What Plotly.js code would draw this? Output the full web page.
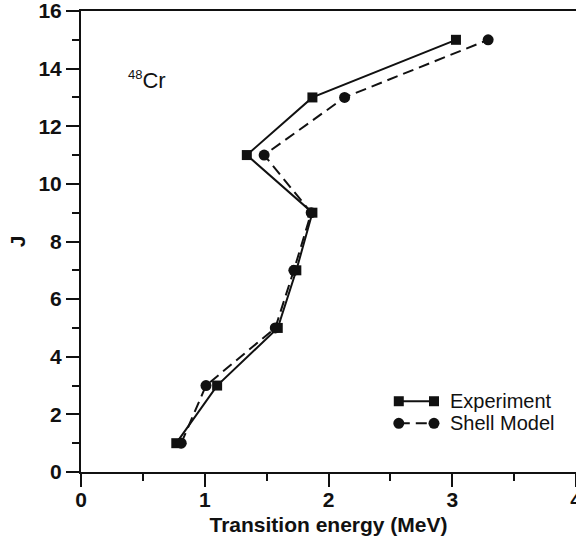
<!DOCTYPE html>
<html>
<head>
<meta charset="utf-8">
<script src="https://cdn.plot.ly/plotly-3.0.1.min.js"></script>
<style>
html, body { margin: 0; padding: 0; overflow: hidden; background: #fff; }
#chart { width: 576px; height: 541px; }
</style>
</head>
<body>
<div id="chart"></div>
<script>
// ---- data ----
const spinJ = [1, 3, 5, 7, 9, 11, 13, 15];
const experimentE = [0.77, 1.10, 1.59, 1.74, 1.87, 1.34, 1.87, 3.03];
const shellModelE = [0.81, 1.01, 1.57, 1.72, 1.86, 1.48, 2.13, 3.29];
const seriesNames = ["Experiment", "Shell Model"];
const xTickVals = [0, 1, 2, 3, 4];
const yTickVals = [0, 2, 4, 6, 8, 10, 12, 14, 16];
const nucleusMass = "48";
const nucleusSymbol = "Cr";
const xTitle = "Transition energy (MeV)";
const yTitle = "J";

const ink = "#111111";
const FONT = "Liberation Sans, Arial, Helvetica, sans-serif";

const traces = [
  {
    x: experimentE, y: spinJ, name: seriesNames[0], type: "scatter", mode: "lines+markers",
    line: { color: ink, width: 2 },
    marker: { symbol: "square", size: 10, color: ink },
    showlegend: false, cliponaxis: false
  },
  {
    x: shellModelE, y: spinJ, name: seriesNames[1], type: "scatter", mode: "lines+markers",
    line: { color: ink, width: 2, dash: "11px,6px" },
    marker: { symbol: "circle", size: 11, color: ink },
    showlegend: false, cliponaxis: false
  }
];

// custom legend (line with marker at both ends), in paper coordinates
const legRows = [0.1535, 0.1057];
const legX0 = 0.642, legX1 = 0.7131, legTextX = 0.7414;
const shapes = [];
const legendStyles = [
  { dash: "solid", sym: "rect", half: 5 },
  { dash: "11px,6px", sym: "circle", half: 5.5 }
];
legendStyles.forEach((st, i) => {
  const yy = legRows[i];
  shapes.push({ type: "line", xref: "paper", yref: "paper", x0: legX0, x1: legX1, y0: yy, y1: yy,
    line: { color: ink, width: 2, dash: st.dash } });
  [legX0, legX1].forEach(xa => {
    shapes.push({ type: st.sym, xref: "paper", yref: "paper", xsizemode: "pixel", ysizemode: "pixel",
      xanchor: xa, yanchor: yy, x0: -st.half, x1: st.half, y0: -st.half, y1: st.half,
      fillcolor: ink, line: { color: ink, width: 0 } });
  });
});

const annotations = seriesNames.map((nm, i) => ({
  text: nm, xref: "paper", yref: "paper", x: legTextX, y: legRows[i],
  xanchor: "left", yanchor: "middle", showarrow: false,
  font: { family: FONT, size: 20, color: ink }
}));
annotations.push({
  text: "<sup><span style=\"font-size:13px\">" + nucleusMass + "</span></sup>" + nucleusSymbol,
  xref: "x", yref: "y", x: 0.363, y: 13.62, xanchor: "left", yanchor: "middle", showarrow: false,
  font: { family: FONT, size: 22, color: ink }
});

const axisCommon = {
  showgrid: false, zeroline: false, showline: true, linewidth: 2, linecolor: ink,
  ticks: "outside", ticklen: 13, tickwidth: 2, tickcolor: ink,
  tickfont: { family: FONT, size: 21, color: ink, weight: "bold" },
  ticklabeloverflow: "allow"
};

const layout = {
  width: 576, height: 541,
  margin: { l: 81, r: 0, t: 11, b: 69, pad: 0 },
  paper_bgcolor: "#ffffff", plot_bgcolor: "#ffffff",
  showlegend: false,
  xaxis: Object.assign({}, axisCommon, {
    range: [0, 4], tickmode: "array", tickvals: xTickVals, ticktext: xTickVals.map(String),
    mirror: true, ticklabelstandoff: -5,
    minor: { ticks: "outside", ticklen: 7, tickwidth: 2, tickcolor: ink, dtick: 0.5, tick0: 0, showgrid: false },
    title: { text: xTitle, font: { family: FONT, size: 21, color: ink, weight: "bold" }, standoff: 7 }
  }),
  yaxis: Object.assign({}, axisCommon, {
    range: [0, 16], tickmode: "array", tickvals: yTickVals, ticktext: yTickVals.map(String),
    mirror: false, ticklabelstandoff: 0,
    minor: { ticks: "outside", ticklen: 7, tickwidth: 2, tickcolor: ink, dtick: 1, tick0: 0, showgrid: false },
    title: { text: yTitle, font: { family: FONT, size: 21, color: ink, weight: "bold" }, standoff: 7 }
  }),
  shapes: shapes,
  annotations: annotations
};

Plotly.newPlot("chart", traces, layout, { displayModeBar: false, staticPlot: true });
</script>
</body>
</html>
